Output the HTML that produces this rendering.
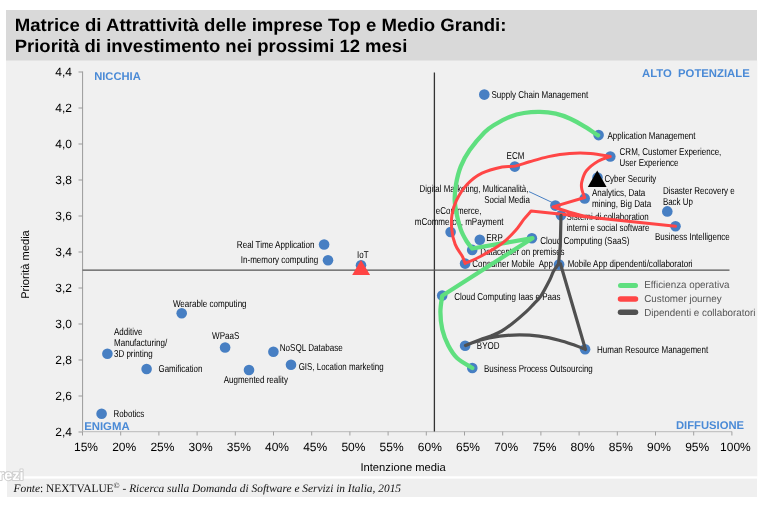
<!DOCTYPE html>
<html><head><meta charset="utf-8"><style>
html,body{margin:0;padding:0;background:#fff;width:760px;height:505px;overflow:hidden}
svg{display:block;will-change:transform;text-rendering:geometricPrecision}

</style></head><body>
<svg width="760" height="505" viewBox="0 0 760 505"><rect x="0" y="0" width="760" height="505" fill="#ffffff"/>
<rect x="6" y="10" width="751" height="51" fill="#d9d9d9"/>
<rect x="6" y="60.5" width="751.3" height="416" fill="#f0f0f0"/>
<rect x="7" y="478.5" width="750" height="18.5" fill="#efefef"/>
<text x="14.7" y="30.8" font-family="Liberation Sans, sans-serif" font-weight="bold" font-size="17.9" fill="#000" textLength="491.8" lengthAdjust="spacingAndGlyphs">Matrice di Attrattività delle imprese Top e Medio Grandi:</text>
<text x="14.7" y="51.5" font-family="Liberation Sans, sans-serif" font-weight="bold" font-size="17.9" fill="#000" textLength="392.6" lengthAdjust="spacingAndGlyphs">Priorità di investimento nei prossimi 12 mesi</text>
<line x1="82.6" y1="71.5" x2="82.6" y2="432" stroke="#9a9a9a" stroke-width="1"/>
<line x1="82" y1="431.6" x2="732" y2="431.6" stroke="#c4c4c4" stroke-width="1.3"/>
<line x1="78.5" y1="72.0" x2="82.6" y2="72.0" stroke="#9a9a9a" stroke-width="1"/>
<text x="72" y="76.3" text-anchor="end" font-family="Liberation Sans, sans-serif" font-size="12" fill="#000">4,4</text>
<line x1="78.5" y1="108.0" x2="82.6" y2="108.0" stroke="#9a9a9a" stroke-width="1"/>
<text x="72" y="112.3" text-anchor="end" font-family="Liberation Sans, sans-serif" font-size="12" fill="#000">4,2</text>
<line x1="78.5" y1="144.0" x2="82.6" y2="144.0" stroke="#9a9a9a" stroke-width="1"/>
<text x="72" y="148.3" text-anchor="end" font-family="Liberation Sans, sans-serif" font-size="12" fill="#000">4,0</text>
<line x1="78.5" y1="180.0" x2="82.6" y2="180.0" stroke="#9a9a9a" stroke-width="1"/>
<text x="72" y="184.3" text-anchor="end" font-family="Liberation Sans, sans-serif" font-size="12" fill="#000">3,8</text>
<line x1="78.5" y1="216.0" x2="82.6" y2="216.0" stroke="#9a9a9a" stroke-width="1"/>
<text x="72" y="220.3" text-anchor="end" font-family="Liberation Sans, sans-serif" font-size="12" fill="#000">3,6</text>
<line x1="78.5" y1="252.0" x2="82.6" y2="252.0" stroke="#9a9a9a" stroke-width="1"/>
<text x="72" y="256.3" text-anchor="end" font-family="Liberation Sans, sans-serif" font-size="12" fill="#000">3,4</text>
<line x1="78.5" y1="288.0" x2="82.6" y2="288.0" stroke="#9a9a9a" stroke-width="1"/>
<text x="72" y="292.3" text-anchor="end" font-family="Liberation Sans, sans-serif" font-size="12" fill="#000">3,2</text>
<line x1="78.5" y1="324.0" x2="82.6" y2="324.0" stroke="#9a9a9a" stroke-width="1"/>
<text x="72" y="328.3" text-anchor="end" font-family="Liberation Sans, sans-serif" font-size="12" fill="#000">3,0</text>
<line x1="78.5" y1="360.0" x2="82.6" y2="360.0" stroke="#9a9a9a" stroke-width="1"/>
<text x="72" y="364.3" text-anchor="end" font-family="Liberation Sans, sans-serif" font-size="12" fill="#000">2,8</text>
<line x1="78.5" y1="396.0" x2="82.6" y2="396.0" stroke="#9a9a9a" stroke-width="1"/>
<text x="72" y="400.3" text-anchor="end" font-family="Liberation Sans, sans-serif" font-size="12" fill="#000">2,6</text>
<line x1="78.5" y1="432.0" x2="82.6" y2="432.0" stroke="#9a9a9a" stroke-width="1"/>
<text x="72" y="436.3" text-anchor="end" font-family="Liberation Sans, sans-serif" font-size="12" fill="#000">2,4</text>
<line x1="82.5" y1="431.6" x2="82.5" y2="435.5" stroke="#a0a0a0" stroke-width="1"/>
<text x="86.0" y="451" text-anchor="middle" font-family="Liberation Sans, sans-serif" font-size="12" fill="#000">15%</text>
<line x1="120.7" y1="431.6" x2="120.7" y2="435.5" stroke="#a0a0a0" stroke-width="1"/>
<text x="124.2" y="451" text-anchor="middle" font-family="Liberation Sans, sans-serif" font-size="12" fill="#000">20%</text>
<line x1="158.9" y1="431.6" x2="158.9" y2="435.5" stroke="#a0a0a0" stroke-width="1"/>
<text x="162.4" y="451" text-anchor="middle" font-family="Liberation Sans, sans-serif" font-size="12" fill="#000">25%</text>
<line x1="197.1" y1="431.6" x2="197.1" y2="435.5" stroke="#a0a0a0" stroke-width="1"/>
<text x="200.6" y="451" text-anchor="middle" font-family="Liberation Sans, sans-serif" font-size="12" fill="#000">30%</text>
<line x1="235.3" y1="431.6" x2="235.3" y2="435.5" stroke="#a0a0a0" stroke-width="1"/>
<text x="238.8" y="451" text-anchor="middle" font-family="Liberation Sans, sans-serif" font-size="12" fill="#000">35%</text>
<line x1="273.5" y1="431.6" x2="273.5" y2="435.5" stroke="#a0a0a0" stroke-width="1"/>
<text x="277.0" y="451" text-anchor="middle" font-family="Liberation Sans, sans-serif" font-size="12" fill="#000">40%</text>
<line x1="311.7" y1="431.6" x2="311.7" y2="435.5" stroke="#a0a0a0" stroke-width="1"/>
<text x="315.2" y="451" text-anchor="middle" font-family="Liberation Sans, sans-serif" font-size="12" fill="#000">45%</text>
<line x1="349.9" y1="431.6" x2="349.9" y2="435.5" stroke="#a0a0a0" stroke-width="1"/>
<text x="353.4" y="451" text-anchor="middle" font-family="Liberation Sans, sans-serif" font-size="12" fill="#000">50%</text>
<line x1="388.1" y1="431.6" x2="388.1" y2="435.5" stroke="#a0a0a0" stroke-width="1"/>
<text x="391.6" y="451" text-anchor="middle" font-family="Liberation Sans, sans-serif" font-size="12" fill="#000">55%</text>
<line x1="426.3" y1="431.6" x2="426.3" y2="435.5" stroke="#a0a0a0" stroke-width="1"/>
<text x="429.8" y="451" text-anchor="middle" font-family="Liberation Sans, sans-serif" font-size="12" fill="#000">60%</text>
<line x1="464.5" y1="431.6" x2="464.5" y2="435.5" stroke="#a0a0a0" stroke-width="1"/>
<text x="468.0" y="451" text-anchor="middle" font-family="Liberation Sans, sans-serif" font-size="12" fill="#000">65%</text>
<line x1="502.7" y1="431.6" x2="502.7" y2="435.5" stroke="#a0a0a0" stroke-width="1"/>
<text x="506.2" y="451" text-anchor="middle" font-family="Liberation Sans, sans-serif" font-size="12" fill="#000">70%</text>
<line x1="540.9" y1="431.6" x2="540.9" y2="435.5" stroke="#a0a0a0" stroke-width="1"/>
<text x="544.4" y="451" text-anchor="middle" font-family="Liberation Sans, sans-serif" font-size="12" fill="#000">75%</text>
<line x1="579.1" y1="431.6" x2="579.1" y2="435.5" stroke="#a0a0a0" stroke-width="1"/>
<text x="582.6" y="451" text-anchor="middle" font-family="Liberation Sans, sans-serif" font-size="12" fill="#000">80%</text>
<line x1="617.3" y1="431.6" x2="617.3" y2="435.5" stroke="#a0a0a0" stroke-width="1"/>
<text x="620.8" y="451" text-anchor="middle" font-family="Liberation Sans, sans-serif" font-size="12" fill="#000">85%</text>
<line x1="655.5" y1="431.6" x2="655.5" y2="435.5" stroke="#a0a0a0" stroke-width="1"/>
<text x="659.0" y="451" text-anchor="middle" font-family="Liberation Sans, sans-serif" font-size="12" fill="#000">90%</text>
<line x1="693.7" y1="431.6" x2="693.7" y2="435.5" stroke="#a0a0a0" stroke-width="1"/>
<text x="697.2" y="451" text-anchor="middle" font-family="Liberation Sans, sans-serif" font-size="12" fill="#000">95%</text>
<line x1="731.9" y1="431.6" x2="731.9" y2="435.5" stroke="#a0a0a0" stroke-width="1"/>
<text x="735.4" y="451" text-anchor="middle" font-family="Liberation Sans, sans-serif" font-size="12" fill="#000">100%</text>
<text x="360.4" y="470.6" font-family="Liberation Sans, sans-serif" font-size="11.2" fill="#000" textLength="85.4" lengthAdjust="spacingAndGlyphs">Intenzione media</text>
<text transform="translate(29.3,298.8) rotate(-90)" x="0" y="0" font-family="Liberation Sans, sans-serif" font-size="11.2" fill="#000" textLength="68.6" lengthAdjust="spacingAndGlyphs">Priorità media</text>
<line x1="434.4" y1="72.5" x2="434.4" y2="431.6" stroke="#333" stroke-width="1.3"/>
<line x1="82.6" y1="270.1" x2="729.5" y2="270.1" stroke="#555" stroke-width="1.3"/>
<text style="white-space:pre" x="94.2" y="79.7" font-family="Liberation Sans, sans-serif" font-weight="bold" font-size="11.2" fill="#4a8ad6" textLength="46.6" lengthAdjust="spacingAndGlyphs">NICCHIA</text>
<text style="white-space:pre" x="642.0" y="77.1" font-family="Liberation Sans, sans-serif" font-weight="bold" font-size="11.2" fill="#4a8ad6" textLength="107.7" lengthAdjust="spacingAndGlyphs">ALTO  POTENZIALE</text>
<text style="white-space:pre" x="84.2" y="430.4" font-family="Liberation Sans, sans-serif" font-weight="bold" font-size="11.2" fill="#4a8ad6" textLength="45.4" lengthAdjust="spacingAndGlyphs">ENIGMA</text>
<text style="white-space:pre" x="676.0" y="429.3" font-family="Liberation Sans, sans-serif" font-weight="bold" font-size="11.2" fill="#4a8ad6" textLength="68.0" lengthAdjust="spacingAndGlyphs">DIFFUSIONE</text>
<circle cx="484.3" cy="94.6" r="5.3" fill="#477fc3"/>
<circle cx="598.6" cy="135.1" r="5.3" fill="#477fc3"/>
<circle cx="610.3" cy="156.5" r="5.3" fill="#477fc3"/>
<circle cx="514.8" cy="166.6" r="5.3" fill="#477fc3"/>
<circle cx="597.5" cy="177.5" r="5.3" fill="#477fc3"/>
<circle cx="584.7" cy="198.4" r="5.3" fill="#477fc3"/>
<circle cx="667.3" cy="211.4" r="5.3" fill="#477fc3"/>
<circle cx="675.5" cy="226.3" r="5.3" fill="#477fc3"/>
<circle cx="555.4" cy="205.6" r="5.3" fill="#477fc3"/>
<circle cx="450.6" cy="232.0" r="5.3" fill="#477fc3"/>
<circle cx="561.0" cy="215.3" r="5.3" fill="#477fc3"/>
<circle cx="479.8" cy="239.8" r="5.3" fill="#477fc3"/>
<circle cx="531.9" cy="238.2" r="5.3" fill="#477fc3"/>
<circle cx="472.2" cy="249.9" r="5.3" fill="#477fc3"/>
<circle cx="465.1" cy="263.6" r="5.3" fill="#477fc3"/>
<circle cx="559.1" cy="264.6" r="5.3" fill="#477fc3"/>
<circle cx="442.2" cy="295.6" r="5.3" fill="#477fc3"/>
<circle cx="465.1" cy="345.8" r="5.3" fill="#477fc3"/>
<circle cx="585.1" cy="349.2" r="5.3" fill="#477fc3"/>
<circle cx="472.3" cy="368.0" r="5.3" fill="#477fc3"/>
<circle cx="324.1" cy="244.5" r="5.3" fill="#477fc3"/>
<circle cx="328.0" cy="260.2" r="5.3" fill="#477fc3"/>
<circle cx="361.0" cy="265.3" r="5.3" fill="#477fc3"/>
<circle cx="181.7" cy="313.3" r="5.3" fill="#477fc3"/>
<circle cx="107.4" cy="353.7" r="5.3" fill="#477fc3"/>
<circle cx="146.6" cy="369.0" r="5.3" fill="#477fc3"/>
<circle cx="225.1" cy="347.5" r="5.3" fill="#477fc3"/>
<circle cx="273.4" cy="351.8" r="5.3" fill="#477fc3"/>
<circle cx="249.0" cy="370.0" r="5.3" fill="#477fc3"/>
<circle cx="291.0" cy="364.7" r="5.3" fill="#477fc3"/>
<circle cx="101.6" cy="413.7" r="5.3" fill="#477fc3"/>
<line x1="529" y1="191.6" x2="552" y2="202.4" stroke="#477fc3" stroke-width="1"/>
<text x="491.5" y="98.2" font-family="Liberation Sans, sans-serif" font-size="10" fill="#000000" textLength="96.8" lengthAdjust="spacingAndGlyphs" style="white-space:pre">Supply Chain Management</text>
<text x="607.5" y="138.8" font-family="Liberation Sans, sans-serif" font-size="10" fill="#000000" textLength="88.0" lengthAdjust="spacingAndGlyphs" style="white-space:pre">Application Management</text>
<text x="619.6" y="155.0" font-family="Liberation Sans, sans-serif" font-size="10" fill="#000000" textLength="101.7" lengthAdjust="spacingAndGlyphs" style="white-space:pre">CRM, Customer Experience,</text>
<text x="619.6" y="165.8" font-family="Liberation Sans, sans-serif" font-size="10" fill="#000000" textLength="58.9" lengthAdjust="spacingAndGlyphs" style="white-space:pre">User Experience</text>
<text x="506.6" y="159.3" font-family="Liberation Sans, sans-serif" font-size="10" fill="#000000" textLength="17.8" lengthAdjust="spacingAndGlyphs" style="white-space:pre">ECM</text>
<text x="604.4" y="181.6" font-family="Liberation Sans, sans-serif" font-size="10" fill="#000000" textLength="51.9" lengthAdjust="spacingAndGlyphs" style="white-space:pre">Cyber Security</text>
<text x="592.0" y="196.2" font-family="Liberation Sans, sans-serif" font-size="10" fill="#000000" textLength="53.3" lengthAdjust="spacingAndGlyphs" style="white-space:pre">Analytics, Data</text>
<text x="592.0" y="207.0" font-family="Liberation Sans, sans-serif" font-size="10" fill="#000000" textLength="59.2" lengthAdjust="spacingAndGlyphs" style="white-space:pre">mining, Big Data</text>
<text x="662.9" y="193.6" font-family="Liberation Sans, sans-serif" font-size="10" fill="#000000" textLength="71.8" lengthAdjust="spacingAndGlyphs" style="white-space:pre">Disaster Recovery e</text>
<text x="662.9" y="205.2" font-family="Liberation Sans, sans-serif" font-size="10" fill="#000000" textLength="30.0" lengthAdjust="spacingAndGlyphs" style="white-space:pre">Back Up</text>
<text x="654.9" y="240.0" font-family="Liberation Sans, sans-serif" font-size="10" fill="#000000" textLength="74.9" lengthAdjust="spacingAndGlyphs" style="white-space:pre">Business Intelligence</text>
<text x="419.6" y="191.8" font-family="Liberation Sans, sans-serif" font-size="10" fill="#000000" textLength="108.8" lengthAdjust="spacingAndGlyphs" style="white-space:pre">Digital Marketing, Multicanalità,</text>
<text x="484.2" y="202.9" font-family="Liberation Sans, sans-serif" font-size="10" fill="#000000" textLength="45.7" lengthAdjust="spacingAndGlyphs" style="white-space:pre">Social Media</text>
<text x="435.8" y="213.6" font-family="Liberation Sans, sans-serif" font-size="10" fill="#000000" textLength="45.6" lengthAdjust="spacingAndGlyphs" style="white-space:pre">eCommerce,</text>
<text x="414.7" y="225.4" font-family="Liberation Sans, sans-serif" font-size="10" fill="#000000" textLength="88.9" lengthAdjust="spacingAndGlyphs" style="white-space:pre">mCommerce, mPayment</text>
<text x="566.6" y="219.6" font-family="Liberation Sans, sans-serif" font-size="10" fill="#000000" textLength="82.1" lengthAdjust="spacingAndGlyphs" style="white-space:pre">Sistemi di collaboration</text>
<text x="566.6" y="230.7" font-family="Liberation Sans, sans-serif" font-size="10" fill="#000000" textLength="82.8" lengthAdjust="spacingAndGlyphs" style="white-space:pre">interni e social software</text>
<text x="486.3" y="240.6" font-family="Liberation Sans, sans-serif" font-size="10" fill="#000000" textLength="16.4" lengthAdjust="spacingAndGlyphs" style="white-space:pre">ERP</text>
<text x="540.3" y="243.8" font-family="Liberation Sans, sans-serif" font-size="10" fill="#000000" textLength="89.1" lengthAdjust="spacingAndGlyphs" style="white-space:pre">Cloud Computing (SaaS)</text>
<text x="480.3" y="254.7" font-family="Liberation Sans, sans-serif" font-size="10" fill="#000000" textLength="84.3" lengthAdjust="spacingAndGlyphs" style="white-space:pre">Datacenter on premises</text>
<text x="472.3" y="266.5" font-family="Liberation Sans, sans-serif" font-size="10" fill="#000000" textLength="80.7" lengthAdjust="spacingAndGlyphs" style="white-space:pre">Consumer Mobile  App</text>
<text x="567.7" y="266.9" font-family="Liberation Sans, sans-serif" font-size="10" fill="#000000" textLength="124.9" lengthAdjust="spacingAndGlyphs" style="white-space:pre">Mobile App dipendenti/collaboratori</text>
<text x="454.2" y="299.5" font-family="Liberation Sans, sans-serif" font-size="10" fill="#000000" textLength="106.3" lengthAdjust="spacingAndGlyphs" style="white-space:pre">Cloud Computing Iaas e Paas</text>
<text x="476.8" y="349.4" font-family="Liberation Sans, sans-serif" font-size="10" fill="#000000" textLength="22.7" lengthAdjust="spacingAndGlyphs" style="white-space:pre">BYOD</text>
<text x="597.0" y="352.8" font-family="Liberation Sans, sans-serif" font-size="10" fill="#000000" textLength="111.2" lengthAdjust="spacingAndGlyphs" style="white-space:pre">Human Resource Management</text>
<text x="484.0" y="371.5" font-family="Liberation Sans, sans-serif" font-size="10" fill="#000000" textLength="108.8" lengthAdjust="spacingAndGlyphs" style="white-space:pre">Business Process Outsourcing</text>
<text x="236.8" y="248.0" font-family="Liberation Sans, sans-serif" font-size="10" fill="#000000" textLength="77.8" lengthAdjust="spacingAndGlyphs" style="white-space:pre">Real Time Application</text>
<text x="240.8" y="262.6" font-family="Liberation Sans, sans-serif" font-size="10" fill="#000000" textLength="77.4" lengthAdjust="spacingAndGlyphs" style="white-space:pre">In-memory computing</text>
<text x="357.1" y="257.9" font-family="Liberation Sans, sans-serif" font-size="10" fill="#000000" textLength="11.5" lengthAdjust="spacingAndGlyphs" style="white-space:pre">IoT</text>
<text x="172.9" y="306.7" font-family="Liberation Sans, sans-serif" font-size="10" fill="#000000" textLength="73.7" lengthAdjust="spacingAndGlyphs" style="white-space:pre">Wearable computing</text>
<text x="114.0" y="334.7" font-family="Liberation Sans, sans-serif" font-size="10" fill="#000000" textLength="28.4" lengthAdjust="spacingAndGlyphs" style="white-space:pre">Additive</text>
<text x="114.0" y="345.7" font-family="Liberation Sans, sans-serif" font-size="10" fill="#000000" textLength="53.2" lengthAdjust="spacingAndGlyphs" style="white-space:pre">Manufacturing/</text>
<text x="114.0" y="356.8" font-family="Liberation Sans, sans-serif" font-size="10" fill="#000000" textLength="38.6" lengthAdjust="spacingAndGlyphs" style="white-space:pre">3D printing</text>
<text x="158.5" y="372.4" font-family="Liberation Sans, sans-serif" font-size="10" fill="#000000" textLength="43.9" lengthAdjust="spacingAndGlyphs" style="white-space:pre">Gamification</text>
<text x="212.1" y="339.4" font-family="Liberation Sans, sans-serif" font-size="10" fill="#000000" textLength="27.3" lengthAdjust="spacingAndGlyphs" style="white-space:pre">WPaaS</text>
<text x="279.7" y="350.8" font-family="Liberation Sans, sans-serif" font-size="10" fill="#000000" textLength="63.1" lengthAdjust="spacingAndGlyphs" style="white-space:pre">NoSQL Database</text>
<text x="223.7" y="383.3" font-family="Liberation Sans, sans-serif" font-size="10" fill="#000000" textLength="64.3" lengthAdjust="spacingAndGlyphs" style="white-space:pre">Augmented reality</text>
<text x="298.7" y="369.8" font-family="Liberation Sans, sans-serif" font-size="10" fill="#000000" textLength="85.0" lengthAdjust="spacingAndGlyphs" style="white-space:pre">GIS, Location marketing</text>
<text x="113.4" y="417.4" font-family="Liberation Sans, sans-serif" font-size="10" fill="#000000" textLength="30.9" lengthAdjust="spacingAndGlyphs" style="white-space:pre">Robotics</text>
<path d="M598.1,135.4 C595.9,134.0 589.3,129.5 584.7,126.7 C580.1,123.9 575.1,121.0 570.3,118.8 C565.5,116.6 560.9,114.8 555.8,113.7 C550.7,112.6 545.2,112.0 539.9,111.9 C534.6,111.8 529.0,112.2 523.9,113.0 C518.8,113.8 514.3,115.0 509.5,116.9 C504.7,118.8 499.1,121.9 495.0,124.5 C490.9,127.1 488.8,128.0 484.6,132.3 C480.4,136.6 473.7,144.4 469.7,150.1 C465.7,155.8 463.1,160.7 460.8,166.4 C458.5,172.1 457.0,178.7 456.0,184.3 C455.0,189.9 454.6,194.8 454.7,199.9 C454.8,205.0 455.8,209.8 456.8,214.7 C457.8,219.6 459.2,225.1 460.8,229.6 C462.4,234.1 464.8,238.2 466.7,241.4 C468.6,244.6 471.3,247.3 472.2,248.5 L532.5,238.2 L442.2,295.7  C441.9,298.4 440.4,306.1 440.4,311.7 C440.4,317.3 441.0,323.9 442.3,329.5 C443.6,335.1 445.9,340.8 448.3,345.5 C450.8,350.2 453.0,354.2 457.0,358.0 C461.0,361.8 469.8,366.3 472.3,368.0" fill="none" stroke="#5fdf7f" stroke-width="4.3" stroke-linejoin="round" stroke-linecap="round"/>
<path d="M675.5,226.3 L531.0,211.1 L531.0,211.1 C529.8,212.5 526.4,216.2 523.8,219.4 C521.2,222.6 519.2,226.4 515.5,230.5 C511.8,234.6 507.4,239.4 501.6,243.7 C495.8,248.0 486.9,252.9 480.8,256.2 C474.7,259.5 467.7,262.2 465.1,263.4  C464.6,262.2 464.0,259.5 462.3,256.3 C460.6,253.1 456.9,248.9 455.2,244.4 C453.4,239.9 452.3,234.6 451.8,229.6 C451.3,224.6 451.2,219.5 452.0,214.7 C452.8,209.8 453.9,205.5 456.4,200.5 C458.9,195.5 462.7,189.2 467.0,184.6 C471.3,180.0 476.1,176.1 482.0,173.2 C487.9,170.3 496.6,168.2 502.1,167.0 C507.6,165.8 510.6,167.0 515.2,166.1 C519.8,165.2 524.0,163.4 529.5,161.8 C535.0,160.2 541.7,158.0 548.4,156.6 C555.1,155.2 562.5,153.9 569.5,153.4 C576.5,152.9 583.7,152.9 590.5,153.4 C597.3,153.9 607.0,156.0 610.3,156.5  C608.2,157.3 602.0,158.9 598.0,161.3 C594.0,163.7 589.1,167.4 586.4,170.8 C583.7,174.2 582.6,178.7 581.8,181.8 C581.0,184.9 581.3,186.6 581.8,189.2 C582.3,191.8 584.2,196.1 584.7,197.5 L553,206.9 C563,210.1 580,216.3 592,217.6 L675.5,226.3" fill="none" stroke="#ff4646" stroke-width="3" stroke-linejoin="round" stroke-linecap="round"/>
<path d="M561.0,215.3 L560.3,246.0 L558.5,264.0  C557.7,265.2 555.0,268.6 553.5,271.3 C552.0,274.0 551.8,275.9 549.7,280.0 C547.6,284.1 543.6,291.8 541.0,295.8 C538.4,299.8 536.4,301.2 533.9,303.8 C531.4,306.4 529.8,308.4 526.3,311.7 C522.8,314.9 516.8,320.1 512.7,323.3 C508.6,326.5 505.4,328.9 501.8,331.0 C498.2,333.1 494.5,334.4 490.9,335.9 C487.3,337.3 484.2,338.1 480.0,339.7 C475.8,341.3 467.9,344.5 465.5,345.5  C467.9,344.6 474.1,341.8 479.8,340.2 C485.5,338.6 493.0,337.1 499.6,336.2 C506.2,335.3 512.8,334.9 519.4,334.9 C526.0,334.9 532.6,335.3 539.2,336.2 C545.8,337.1 553.0,338.7 559.0,340.2 C565.0,341.7 570.5,343.8 574.9,345.3 C579.3,346.9 583.7,348.8 585.5,349.5 L560.5,264" fill="none" stroke="#505050" stroke-width="3.2" stroke-linejoin="round" stroke-linecap="round"/>
<polygon points="361,260.1 352.2,275 370.1,275" fill="#ff4444"/>
<polygon points="597.2,170.4 587.8,187 606.6,187" fill="#000"/>
<line x1="620.5" y1="285.4" x2="635.5" y2="285.4" stroke="#5fdf7f" stroke-width="5" stroke-linecap="round"/>
<line x1="620.5" y1="298.9" x2="635.5" y2="298.9" stroke="#ff4646" stroke-width="5.5" stroke-linecap="round"/>
<line x1="620.5" y1="312.2" x2="635.5" y2="312.2" stroke="#505050" stroke-width="5.5" stroke-linecap="round"/>
<text x="644.2" y="287.5" font-family="Liberation Sans, sans-serif" font-size="10.2" fill="#555555" textLength="85.3" lengthAdjust="spacingAndGlyphs">Efficienza operativa</text>
<text x="644.2" y="301.6" font-family="Liberation Sans, sans-serif" font-size="10.2" fill="#555555" textLength="77.5" lengthAdjust="spacingAndGlyphs">Customer journey</text>
<text x="644.2" y="316.4" font-family="Liberation Sans, sans-serif" font-size="10.2" fill="#555555" textLength="111.2" lengthAdjust="spacingAndGlyphs">Dipendenti e collaboratori</text>
<rect x="7" y="476.5" width="751" height="1.8" fill="#ffffff"/>
<text x="-1.5" y="480.3" font-family="Liberation Sans, sans-serif" font-weight="bold" font-size="14.5" fill="#fff" stroke="#cfcfcf" stroke-width="2.2" stroke-linejoin="round" paint-order="stroke">rezi</text>
<text x="13.5" y="491.5" font-family="Liberation Serif, serif" font-size="11.4" fill="#111"><tspan font-style="italic">Fonte</tspan>: NEXTVALUE<tspan font-size="8" dy="-4">©</tspan><tspan dy="4" font-style="italic"> - Ricerca sulla Domanda di Software e Servizi in Italia, 2015</tspan></text></svg>
</body></html>
